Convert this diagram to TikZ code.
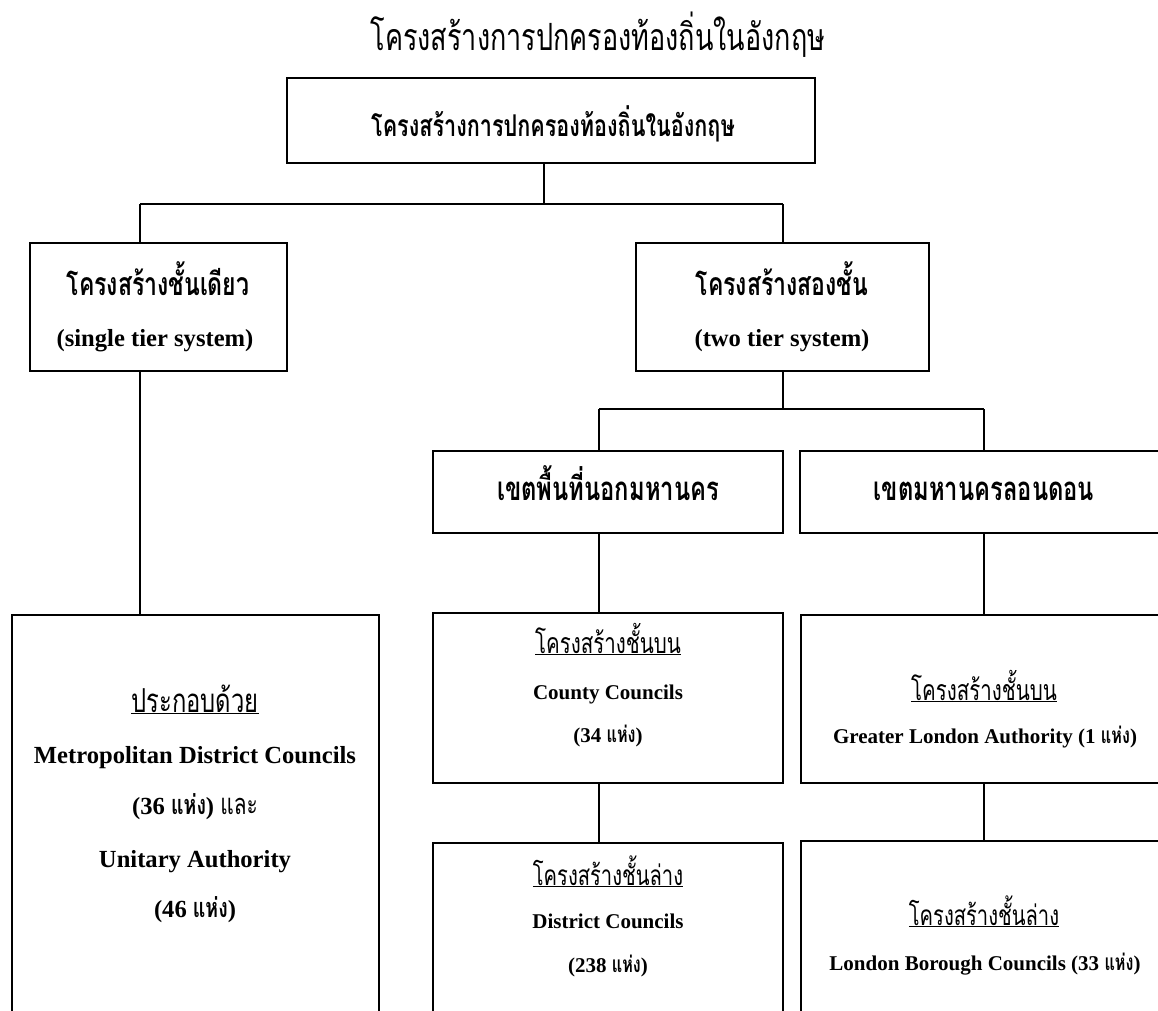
\documentclass[tikz,border=0pt]{standalone}
\usepackage{fontspec}
\setmainfont{Liberation Serif}
\newfontfamily\thaifont[Script=Thai,FakeStretch=0.72]{Loma}
\usetikzlibrary{calc,fit}
\newcommand\fs[1]{\fontsize{#1}{#1}\selectfont}
\begin{document}
\begin{tikzpicture}[x=1pt,y=-1pt,
  frame/.style={draw=black,line width=1.8pt,inner sep=0pt,rectangle},
  heavy/.style={frame,line width=2.6pt},
  link/.style={draw=black,line width=1.6pt},
  txt/.style={anchor=base,inner sep=0pt},
]
\useasboundingbox (0,0) rectangle (1158,1010);
\fill[white] (0,0) rectangle (1158,1010);
\clip (0,0) rectangle (1158,1010);

% boxes
\node[frame,fit={(287,78)(815,163)}] (top) {};
\node[frame,fit={(30,243)(287,371)}] (single) {};
\node[frame,fit={(636,243)(929,371)}] (two) {};
\node[heavy,fit={(433,451)(783,533)}] (outer) {};
\node[heavy,fit={(800,451)(1168,533)}] (london) {};
\node[frame,fit={(12,615)(379,1040)}] (big) {};
\node[frame,fit={(433,613)(783,783)}] (county) {};
\node[frame,fit={(433,843)(783,1040)}] (district) {};
\node[frame,fit={(801,615)(1168,783)}] (gla) {};
\node[frame,fit={(801,841)(1168,1040)}] (lbc) {};

% junctions
\coordinate (jT) at (544,204);
\coordinate (jL) at (140,204);
\coordinate (jR) at (783,204);
\coordinate (kM) at (783,409);
\coordinate (kL) at (599,409);
\coordinate (kR) at (984,409);

\draw[link] (top.south -| jT) -- (jT);
\draw[link] (jL) -- (jR);
\draw[link] (jL) -- (jL |- single.north);
\draw[link] (jR) -- (jR |- two.north);
\draw[link] (single.south -| jL) -- (jL |- big.north);
\draw[link] (two.south -| kM) -- (kM);
\draw[link] (kL) -- (kR);
\draw[link] (kL) -- (kL |- outer.north);
\draw[link] (kR) -- (kR |- london.north);
\draw[link] (outer.south -| kL) -- (kL |- county.north);
\draw[link] (london.south -| kR) -- (kR |- gla.north);
\draw[link] (county.south -| kL) -- (kL |- district.north);
\draw[link] (gla.south -| kR) -- (kR |- lbc.north);

% texts
\node[txt,font={\thaifont\fs{37.5}}] (title) at (598,50) {โครงสร้างการปกครองท้องถิ่นในอังกฤษ};
\node[txt,font={\thaifont\bfseries\fs{30}}] (toptxt) at (553,136) {โครงสร้างการปกครองท้องถิ่นในอังกฤษ};

\node[txt,font={\thaifont\bfseries\fs{32}}] (s1) at (158,295) {โครงสร้างชั้นเดียว};
\node[txt,font={\bfseries\fs{24.6}}] (s2) at (155,346) {(single tier system)};
\node[txt,font={\thaifont\bfseries\fs{32}}] (w1) at (782,295) {โครงสร้างสองชั้น};
\node[txt,font={\bfseries\fs{24.6}}] (w2) at (782,346) {(two tier system)};

\node[txt,font={\thaifont\bfseries\fs{33}}] (o1) at (608,500) {เขตพื้นที่นอกมหานคร};
\node[txt,font={\thaifont\bfseries\fs{33}}] (l1) at (984,500) {เขตมหานครลอนดอน};

\node[txt,font={\thaifont\fs{33}}] (b1) at (195,712) {\underline{ประกอบด้วย}};
\node[txt,font={\bfseries\fs{24.6}}] (b2) at (195,763) {Metropolitan District Councils};
\node[txt,font={\bfseries\fs{24.6}}] (b3) at (195,814) {(36 {\thaifont\fs{27}แห่ง}) {\thaifont\mdseries\fs{29}และ}};
\node[txt,font={\bfseries\fs{24.6}}] (b4) at (195,867) {Unitary Authority};
\node[txt,font={\bfseries\fs{24.6}}] (b5) at (195,917) {(46 {\thaifont\fs{27}แห่ง})};

\node[txt,font={\thaifont\fs{28.5}}] (c1) at (608,653) {\underline{โครงสร้างชั้นบน}};
\node[txt,font={\bfseries\fs{21}}] (c2) at (608,699) {County Councils};
\node[txt,font={\bfseries\fs{21}}] (c3) at (608,742) {(34 {\thaifont\fs{22.5}แห่ง})};

\node[txt,font={\thaifont\fs{28}}] (d1) at (608,885) {\underline{โครงสร้างชั้นล่าง}};
\node[txt,font={\bfseries\fs{21}}] (d2) at (608,928) {District Councils};
\node[txt,font={\bfseries\fs{21}}] (d3) at (608,972) {(238 {\thaifont\fs{22.5}แห่ง})};

\node[txt,font={\thaifont\fs{28.5}}] (g1) at (984,700) {\underline{โครงสร้างชั้นบน}};
\node[txt,font={\bfseries\fs{21}}] (g2) at (985,743) {Greater London Authority (1 {\thaifont\fs{22.5}แห่ง})};

\node[txt,font={\thaifont\fs{28}}] (n1) at (984,925) {\underline{โครงสร้างชั้นล่าง}};
\node[txt,font={\bfseries\fs{21}}] (n2) at (985,970) {London Borough Councils (33 {\thaifont\fs{22.5}แห่ง})};
\end{tikzpicture}
\end{document}
